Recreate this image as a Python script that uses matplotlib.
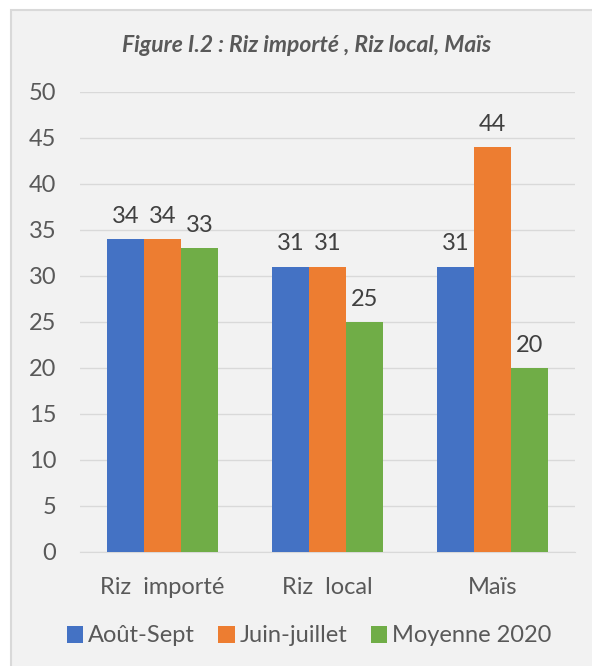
import matplotlib
matplotlib.use("Agg")
import matplotlib.pyplot as plt
import numpy as np
from matplotlib.patches import Rectangle

categories = ["Riz  importé", "Riz  local", "Maïs"]
series_names = ["Août-Sept", "Juin-juillet", "Moyenne 2020"]
aout_sept = [34, 31, 31]
juin_juillet = [34, 31, 44]
moyenne_2020 = [33, 25, 20]
colors = ["#4472C4", "#ED7D31", "#70AD47"]
yticks = [0, 5, 10, 15, 20, 25, 30, 35, 40, 45, 50]
title = "Figure I.2 : Riz importé , Riz local, Maïs"

plt.rcParams['font.family'] = ['Lato', 'DejaVu Sans']

W, H = 592, 666
fig = plt.figure(figsize=(W/100, H/100), dpi=100)
fig.patch.set_facecolor("white")
# panel background
fig.patches.append(Rectangle((11/W, -0.01), 1.02 - 11/W, 1.01 - 10/H, transform=fig.transFigure,
                             facecolor="#F2F2F2", edgecolor="#D9D9D9", linewidth=1.5, zorder=-10))

ax = fig.add_axes([80/W, 1 - 552/H, 495/W, 460/H])
ax.set_facecolor("none")
ax.set_zorder(2)

x = np.arange(len(categories))
bw = 0.225
data = [aout_sept, juin_juillet, moyenne_2020]
for i, (vals, c, name) in enumerate(zip(data, colors, series_names)):
    bars = ax.bar(x + (i - 1) * bw, vals, bw, color=c, label=name, zorder=3)
    for b, v in zip(bars, vals):
        ax.text(b.get_x() + b.get_width() / 2, v + 1.35, f"{v}", ha="center", va="bottom",
                fontsize=17, color="#404040", zorder=4)

ax.set_ylim(0, 50)
ax.set_xlim(-0.5, 2.5)
ax.set_yticks(yticks)
ax.yaxis.grid(True, color="#D9D9D9", linewidth=1, zorder=0)
ax.set_axisbelow(True)
for s in ["top", "right", "left"]:
    ax.spines[s].set_visible(False)
ax.spines["bottom"].set_color("#D9D9D9")
ax.tick_params(axis="y", length=0, labelsize=17, labelcolor="#595959", pad=17)
ax.tick_params(axis="x", length=0, labelsize=17, labelcolor="#595959", pad=18)
ax.set_xticks(x)
ax.set_xticklabels(categories)

fig.text(307/W, 1 - 45/H, title, ha="center", va="center", fontsize=16.5,
         fontstyle="italic", fontweight="bold", color="#595959")

leg = fig.legend(loc="center", bbox_to_anchor=(309/W, 1 - 636/H), ncol=3, frameon=False,
                 fontsize=17, handlelength=0.7, handleheight=0.7, handletextpad=0.2,
                 columnspacing=1.0, labelcolor="#595959")

fig.savefig("out.png", dpi=100, facecolor=fig.get_facecolor())
